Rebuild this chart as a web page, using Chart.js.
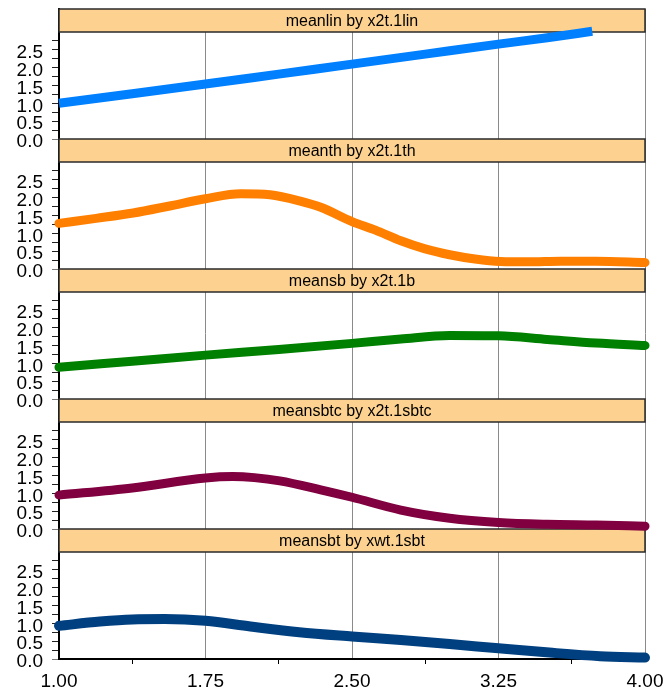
<!DOCTYPE html>
<html>
<head>
<meta charset="utf-8">
<script src="https://cdn.jsdelivr.net/npm/chart.js@4/dist/chart.umd.min.js"></script>
<style>
  html, body { margin: 0; padding: 0; background: #ffffff; }
  #wrap { width: 669px; height: 697px; position: relative; }
</style>
</head>
<body>
<div id="wrap"><canvas id="c" width="669" height="697"></canvas></div>
<script>
// Panel titles, top to bottom
const panelTitles = [
  'meanlin by x2t.1lin',
  'meanth by x2t.1th',
  'meansb by x2t.1b',
  'meansbtc by x2t.1sbtc',
  'meansbt by xwt.1sbt'
];

// Series values (x, mean)
const linX = [1.0, 1.375, 1.75, 2.125, 2.5, 2.875, 3.25, 3.5, 3.73];
const linY = [1.0, 1.27, 1.54, 1.82, 2.1, 2.38, 2.66, 2.84, 3.02];

const thX = [1.0, 1.19, 1.38, 1.56, 1.75, 1.93, 2.08, 2.23, 2.34, 2.5, 2.62, 2.75, 2.87, 3.0, 3.13, 3.26, 3.4, 3.57, 3.75, 4.0];
const thY = [1.28, 1.42, 1.57, 1.76, 1.97, 2.11, 2.08, 1.91, 1.73, 1.33, 1.09, 0.79, 0.57, 0.4, 0.28, 0.21, 0.2, 0.22, 0.22, 0.18];

const sbX = [1.0, 1.375, 1.75, 2.125, 2.5, 2.75, 3.0, 3.25, 3.5, 3.75, 4.0];
const sbY = [0.89, 1.06, 1.23, 1.39, 1.56, 1.68, 1.78, 1.77, 1.67, 1.57, 1.5];

const sbtcX = [1.0, 1.375, 1.75, 1.89, 2.0, 2.13, 2.34, 2.5, 2.75, 3.0, 3.25, 3.5, 3.75, 4.0];
const sbtcY = [0.95, 1.15, 1.43, 1.47, 1.44, 1.35, 1.1, 0.89, 0.53, 0.3, 0.18, 0.13, 0.11, 0.08];

const sbtX = [1.0, 1.21, 1.375, 1.54, 1.75, 1.98, 2.23, 2.5, 2.75, 3.0, 3.25, 3.51, 3.77, 4.0];
const sbtY = [0.93, 1.05, 1.11, 1.12, 1.07, 0.91, 0.75, 0.63, 0.53, 0.42, 0.3, 0.18, 0.08, 0.04];

const seriesX = [linX, thX, sbX, sbtcX, sbtX];
const seriesY = [linY, thY, sbY, sbtcY, sbtY];
const seriesColors = ['#0080FF', '#FF8000', '#008000', '#800040', '#004080'];

// Tick values
const xTickValues = [1.0, 1.375, 1.75, 2.125, 2.5, 2.875, 3.25, 3.625, 4.0];
const xLabelValues = [1.0, 1.75, 2.5, 3.25, 4.0];
const yTickValues = [0, 0.25, 0.5, 0.75, 1.0, 1.25, 1.5, 1.75, 2.0, 2.25, 2.5, 2.75];

// Each panel: plot range 0..3 plus a title strip on top (23px over a 107px plot)
const Y_TOP = 3;
const Y_MAX = Y_TOP * (1 + 23 / 107);

const FONT = '"Liberation Sans", Arial, sans-serif';
const near = (a, b) => Math.abs(a - b) < 1e-6;
const isXLabel = v => xLabelValues.some(l => near(l, v));
const isYLabel = v => near(v * 2, Math.round(v * 2));

const datasets = panelTitles.map((t, i) => ({
  label: t,
  data: seriesX[i].map((x, k) => ({ x: x, y: seriesY[i][k] })),
  yAxisID: 'y' + i,
  borderColor: seriesColors[i],
  backgroundColor: seriesColors[i],
  borderWidth: i === 4 ? 10 : 9,
  borderCapStyle: i === 0 ? 'butt' : 'round',
  borderJoinStyle: 'round',
  pointRadius: 0,
  pointHoverRadius: 0,
  cubicInterpolationMode: 'monotone',
  fill: false,
  clip: false
}));

const scales = {
  x: {
    type: 'linear',
    position: 'bottom',
    min: 1,
    max: 4,
    afterBuildTicks: s => { s.ticks = xTickValues.map(v => ({ value: v })); },
    ticks: {
      autoSkip: false,
      maxRotation: 0,
      padding: 6,
      color: '#000',
      font: { family: FONT, size: 19 },
      callback: v => isXLabel(v) ? v.toFixed(2) : ''
    },
    grid: {
      drawOnChartArea: true,
      lineWidth: 1,
      color: c => (c.tick && isXLabel(c.tick.value)) ? '#8a8a8a' : 'rgba(0,0,0,0)',
      tickColor: c => (c.tick && isXLabel(c.tick.value)) ? 'rgba(0,0,0,0)' : '#000',
      tickLength: 5
    },
    border: { display: true, color: '#000', width: 2 },
    afterFit: s => { s.height = 38; s.paddingLeft = 0; s.paddingRight = 0; }
  }
};

panelTitles.forEach((t, i) => {
  scales['y' + i] = {
    type: 'linear',
    position: 'left',
    stack: 'panels',
    stackWeight: 1,
    weight: 10 - i,
    min: 0,
    max: Y_MAX,
    afterBuildTicks: s => { s.ticks = yTickValues.map(v => ({ value: v })); },
    ticks: {
      autoSkip: false,
      padding: 9,
      labelOffset: 3,
      color: '#000',
      font: { family: FONT, size: 19 },
      callback: v => isYLabel(v) ? v.toFixed(1) : ''
    },
    grid: {
      drawOnChartArea: false,
      tickLength: 7,
      tickColor: c => (c.tick && near(c.tick.value, 0)) ? '#777' : '#222',
      lineWidth: 1
    },
    border: { display: true, color: '#000', width: 2 },
    afterFit: s => { s.width = 59; s.paddingTop = 0; s.paddingBottom = 0; }
  };
});

// Title strip drawn at the top of every panel, under the data lines
const panelHeaders = {
  id: 'panelHeaders',
  beforeDatasetsDraw(chart) {
    const { ctx, chartArea } = chart;
    panelTitles.forEach((t, i) => {
      const s = chart.scales['y' + i];
      const top = s.top;
      const bot = s.getPixelForValue(Y_TOP);
      const w = chartArea.right - chartArea.left;
      ctx.save();
      ctx.fillStyle = '#FDD290';
      ctx.fillRect(chartArea.left, top, w, bot - top);
      ctx.strokeStyle = '#2a2a2a';
      ctx.lineWidth = 1.5;
      ctx.strokeRect(chartArea.left, top, w, bot - top);
      ctx.fillStyle = '#000';
      ctx.font = '16px ' + FONT;
      ctx.textAlign = 'center';
      ctx.textBaseline = 'middle';
      ctx.fillText(t, chartArea.left + w / 2, (top + bot) / 2 + 1);
      ctx.restore();
    });
  }
};

new Chart(document.getElementById('c'), {
  type: 'line',
  data: { datasets: datasets },
  options: {
    responsive: false,
    animation: false,
    devicePixelRatio: 1,
    layout: { padding: { left: 0, right: 24, top: 9, bottom: 0 } },
    plugins: {
      legend: { display: false },
      tooltip: { enabled: false },
      title: { display: false }
    },
    scales: scales
  },
  plugins: [panelHeaders]
});
</script>
</body>
</html>
